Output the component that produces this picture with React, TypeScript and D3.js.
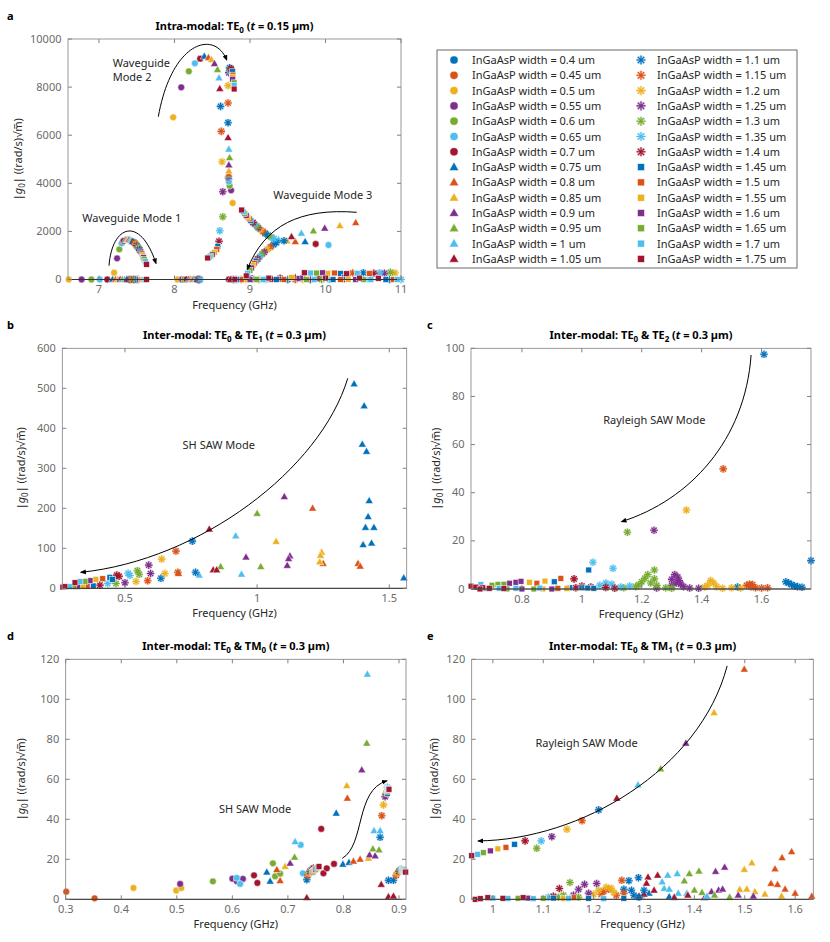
import React from "react";
import * as d3 from "d3";

// [series index, frequency (GHz), |g0|]
type Pt = [number, number, number];
type Seg = { t: string; sub?: boolean; it?: boolean };
type Arrow = [number, number][];

const colors = ["#0072BD", "#D95319", "#EDB120", "#7E2F8E", "#77AC30", "#4DBEEE", "#A2142F"];
const widthLabels = [
  "0.4", "0.45", "0.5", "0.55", "0.6", "0.65", "0.7",
  "0.75", "0.8", "0.85", "0.9", "0.95", "1", "1.05",
  "1.1", "1.15", "1.2", "1.25", "1.3", "1.35", "1.4",
  "1.45", "1.5", "1.55", "1.6", "1.65", "1.7", "1.75",
];

// ---- panel a : intra-modal TE0 ----
const intraFlat: Pt[] = [
  [2, 6.6, 0], [3, 6.77, 0], [4, 6.9, 0], [5, 7.01, 0], [6, 7.11, 0], [7, 7.18, 0], [8, 7.22, 0],
  [9, 7.25, 0], [10, 7.28, 0], [11, 7.31, 0], [12, 7.34, 0], [13, 7.37, 0], [14, 7.4, 0], [15, 7.42, 0],
  [16, 7.44, 0], [17, 7.46, 0], [18, 7.48, 0], [19, 7.5, 0], [20, 7.52, 0], [21, 7.54, 0], [22, 7.56, 0],
  [23, 7.58, 0], [24, 7.59, 0], [25, 7.6, 0], [26, 7.61, 0], [27, 7.63, 0],
  [2, 8.04, 0], [3, 8.1, 0], [4, 8.13, 0], [6, 8.16, 0], [7, 8.19, 0], [8, 8.21, 0], [9, 8.23, 0],
  [10, 8.25, 0], [11, 8.27, 0], [12, 8.29, 0], [13, 8.3, 0], [14, 8.31, 0], [15, 8.32, 0], [17, 8.33, 0],
  [19, 8.34, 0],
  [6, 8.72, 0], [13, 8.74, 0], [7, 8.76, 0], [20, 8.78, 0], [27, 8.8, 10], [14, 8.82, 0], [21, 8.84, 0],
  [8, 8.86, 0], [15, 8.88, 0], [22, 8.9, 0], [9, 8.92, 0], [16, 8.94, 0], [23, 8.96, 0], [10, 8.98, 0],
  [24, 9.0, 0], [17, 9.03, 30], [11, 9.06, 0], [25, 9.09, 0], [18, 9.12, 0], [12, 9.15, 0], [26, 9.18, 0],
  [19, 9.21, 0], [27, 9.25, 60], [13, 9.3, 0], [21, 9.35, 0], [20, 9.4, 50], [22, 9.45, 0], [14, 9.5, 0],
  [23, 9.55, 80], [15, 9.6, 0], [24, 9.65, 40], [16, 9.7, 0], [25, 9.75, 0], [17, 9.8, 0], [26, 9.85, 0],
  [6, 9.9, 50], [18, 9.95, 0], [27, 10.0, 60], [19, 10.05, 0], [21, 10.1, 0], [22, 10.2, 0], [20, 10.25, 40],
  [23, 10.3, 0], [24, 10.4, 0], [25, 10.5, 0], [12, 10.55, 0], [26, 10.6, 0], [27, 10.7, 50], [21, 10.8, 0],
  [14, 10.85, 0], [22, 10.9, 0], [26, 10.95, 0], [19, 11.0, 0],
  [27, 9.72, 280], [26, 9.8, 270], [25, 9.88, 270], [24, 9.96, 280], [23, 10.03, 260], [22, 10.12, 270],
  [21, 10.2, 250], [27, 10.28, 240], [15, 10.36, 270], [26, 10.42, 260], [14, 10.5, 280], [22, 10.58, 250],
  [20, 10.64, 260], [19, 10.72, 280], [17, 10.78, 260], [18, 10.86, 300], [16, 10.92, 270],
  [13, 9.6, 90], [24, 9.7, 70], [12, 10.0, 60], [21, 10.25, 90], [27, 10.45, 60], [7, 10.6, 80],
];

const intraMode1: Pt[] = [
  [2, 7.2, 283], [3, 7.24, 880], [4, 7.27, 1255], [5, 7.3, 1505], [6, 7.325, 1600],
  [7, 7.35, 1640], [8, 7.37, 1650], [9, 7.385, 1660], [10, 7.4, 1650], [11, 7.415, 1630],
  [12, 7.43, 1610], [13, 7.445, 1580], [14, 7.46, 1550], [15, 7.475, 1510], [16, 7.49, 1460],
  [17, 7.5, 1410], [18, 7.515, 1350], [19, 7.53, 1290], [20, 7.54, 1220], [21, 7.555, 1150],
  [22, 7.57, 1070], [23, 7.58, 990], [24, 7.59, 910], [25, 7.6, 830], [26, 7.615, 740], [27, 7.63, 630],
];

const intraMode2: Pt[] = [
  [2, 7.983, 6744], [3, 8.09, 7990], [4, 8.19, 8657], [5, 8.27, 8990], [6, 8.34, 9180],
  [7, 8.395, 9280], [8, 8.45, 9225], [9, 8.49, 9140], [10, 8.53, 8975], [11, 8.57, 8725],
  [12, 8.59, 8380], [13, 8.6, 7935],
  [14, 8.73, 8800], [15, 8.745, 8720], [20, 8.75, 8760], [17, 8.72, 8600], [16, 8.71, 8060],
  [18, 8.735, 8700], [19, 8.74, 8650], [21, 8.77, 8640], [22, 8.775, 8500], [23, 8.77, 8420],
  [24, 8.77, 8330], [25, 8.79, 8180], [26, 8.79, 8080], [27, 8.79, 7920],
  [14, 8.61, 7200], [15, 8.71, 7340], [14, 8.71, 6520], [15, 8.62, 6160], [13, 8.71, 5896],
  [12, 8.72, 5414], [11, 8.73, 5065], [16, 8.63, 4898], [10, 8.72, 4761], [9, 8.72, 4511],
  [8, 8.72, 4374], [7, 8.72, 4290], [6, 8.71, 4240], [0, 8.72, 4180], [5, 8.72, 4066],
  [4, 8.73, 3900], [3, 8.75, 3709], [2, 8.77, 3181], [17, 8.64, 3651], [18, 8.64, 2611],
  [19, 8.6, 2030], [20, 8.59, 1589], [21, 8.575, 1380], [22, 8.56, 1255], [23, 8.53, 1130],
  [24, 8.5, 1048], [25, 8.48, 980], [26, 8.46, 935], [27, 8.44, 894],
  [27, 8.89, 2890], [26, 8.91, 2810], [25, 8.93, 2740], [24, 8.95, 2660], [23, 8.97, 2590],
  [22, 8.99, 2520], [21, 9.01, 2450], [20, 9.04, 2370], [19, 9.06, 2300], [18, 9.09, 2220],
  [17, 9.11, 2150], [16, 9.14, 2070], [15, 9.17, 2000], [14, 9.2, 1920], [14, 9.24, 1840],
  [18, 9.28, 1760], [19, 9.32, 1700], [12, 9.38, 1650], [14, 9.45, 1610], [9, 9.49, 1600],
];

const intraMode3: Pt[] = [
  [27, 8.95, 150], [26, 8.97, 260], [25, 9.0, 380], [24, 9.02, 480], [23, 9.04, 580],
  [22, 9.06, 680], [21, 9.08, 770], [20, 9.1, 850], [19, 9.13, 950], [18, 9.16, 1050],
  [17, 9.19, 1140], [16, 9.23, 1250], [15, 9.27, 1350], [14, 9.31, 1450], [14, 9.35, 1530],
  [13, 9.55, 1780], [8, 9.6, 1572], [12, 9.68, 1920], [7, 9.73, 1572], [11, 9.84, 2017],
  [10, 9.99, 2128], [9, 10.19, 2237], [8, 10.4, 2362], [6, 9.87, 1476], [5, 10.04, 1434],
];

// ---- panel b : TE0 & TE1 ----
const te1Triangles: Pt[] = [
  [7, 1.367, 511], [7, 1.405, 456], [7, 1.398, 360], [7, 1.414, 342], [7, 1.424, 219], [7, 1.42, 179],
  [7, 1.41, 152], [7, 1.442, 152], [7, 1.401, 109], [7, 1.433, 113], [7, 1.555, 26],
  [10, 1.103, 229], [8, 1.21, 200], [11, 1.0, 187], [13, 0.819, 148], [12, 0.919, 131], [9, 1.072, 117],
  [10, 0.958, 78], [12, 0.941, 35], [11, 1.014, 54], [13, 0.834, 46], [13, 0.847, 46], [11, 0.862, 54],
  [10, 1.124, 81], [10, 1.119, 74], [10, 1.114, 57], [9, 1.244, 90], [9, 1.24, 82], [9, 1.237, 66],
  [8, 1.25, 62], [8, 1.382, 62], [8, 1.39, 55], [8, 0.703, 37], [12, 0.781, 33],
];
const te1Stars: Pt[] = [
  [14, 0.755, 118], [15, 0.693, 93], [16, 0.639, 73], [17, 0.59, 58], [18, 0.547, 44], [19, 0.512, 37.5],
  [20, 0.469, 33], [20, 0.478, 30], [19, 0.519, 32], [18, 0.554, 35], [17, 0.597, 37], [16, 0.651, 37],
  [15, 0.7, 40], [14, 0.767, 40],
  [20, 0.405, 8], [19, 0.435, 12], [18, 0.466, 12], [17, 0.5, 14], [16, 0.542, 17], [15, 0.586, 19],
  [14, 0.636, 25],
];
const te1Squares: Pt[] = [
  [27, 0.311, 14], [26, 0.33, 17], [25, 0.349, 17.5], [24, 0.368, 19], [23, 0.39, 22.5], [22, 0.416, 24],
  [21, 0.443, 27.5], [21, 0.453, 22],
  [27, 0.265, 3], [27, 0.273, 4], [26, 0.292, 4], [25, 0.305, 4], [24, 0.32, 4.5], [23, 0.34, 5],
  [22, 0.357, 5], [21, 0.38, 6],
];

// ---- panel c : TE0 & TE2 ----
const te2Stars: Pt[] = [
  [14, 1.608, 97.5], [15, 1.472, 49.9], [16, 1.349, 32.8], [17, 1.241, 24.4], [18, 1.152, 23.6],
  [19, 1.037, 11.1], [19, 1.104, 8.6], [14, 1.765, 11.8], [20, 0.974, 4.2],
  [20, 0.98, 0.5], [20, 1.0, 1.2], [20, 1.03, 0.8], [20, 1.08, 0.6], [20, 1.11, 0.3], [19, 1.06, 1.5],
  [19, 1.08, 2.5], [19, 1.1, 2], [19, 1.13, 0.8], [19, 1.16, 1.2], [18, 1.14, 0.5],
  [18, 1.242, 7.9], [18, 1.242, 4.2], [18, 1.22, 6], [18, 1.21, 4.4], [18, 1.2, 3], [18, 1.19, 1.7],
  [18, 1.18, 1], [18, 1.23, 2.5], [18, 1.25, 1.5], [18, 1.28, 0.5], [18, 1.3, 0.3],
  [17, 1.31, 6], [17, 1.32, 5], [17, 1.3, 4], [17, 1.325, 3.5], [17, 1.315, 2.5], [17, 1.33, 2],
  [17, 1.3, 1.5], [17, 1.34, 1], [17, 1.36, 0.4], [17, 1.39, 0.3], [17, 1.25, 0.4],
  [16, 1.43, 3.5], [16, 1.44, 2.5], [16, 1.42, 1.5], [16, 1.45, 1], [16, 1.41, 0.8], [16, 1.47, 0.3],
  [16, 1.5, 0.5], [16, 1.53, 0.4],
  [15, 1.55, 1.5], [15, 1.56, 2], [15, 1.565, 1], [15, 1.57, 1.8], [15, 1.58, 0.5], [15, 1.6, 0.4],
  [15, 1.62, 0.5],
  [14, 1.681, 3], [14, 1.69, 2.5], [14, 1.7, 1.8], [14, 1.71, 1.2], [14, 1.72, 1], [14, 1.735, 0.7],
  [14, 1.52, 0.8],
];
const te2Squares: Pt[] = [
  [21, 1.023, 7.9], [22, 0.93, 4.4], [22, 0.85, 2.4], [23, 0.877, 3.3], [23, 0.825, 2.8], [24, 0.758, 2.4],
  [24, 0.78, 2.8], [24, 0.797, 3.2], [21, 0.908, 3], [25, 0.7, 1.6], [25, 0.72, 1.9], [25, 0.74, 2.0],
  [26, 0.663, 1.8], [26, 0.724, 0.3], [27, 0.63, 1.2], [27, 0.646, 0.8], [27, 0.669, 0.5], [27, 0.691, 0.3],
  [27, 0.66, 0], [26, 0.68, 0.2], [25, 0.75, 0], [24, 0.8, 0], [23, 0.87, 0], [22, 0.92, 0.3],
  [21, 0.96, 0.5], [26, 0.78, 0.3], [25, 0.84, 0], [24, 0.9, 0], [23, 0.95, 0.2], [21, 1.02, 0.4],
  [21, 1.04, 0.3], [21, 1.0, 0.5], [26, 0.86, 0.4], [27, 0.74, 0.2],
];

// ---- panel d : TE0 & TM0 ----
const tm0Circles: Pt[] = [
  [1, 0.301, 3.8], [1, 0.352, 0.5], [2, 0.422, 5.7], [3, 0.506, 7.7], [2, 0.499, 4.4], [2, 0.508, 5.6],
  [4, 0.565, 9.0], [3, 0.6, 10.3], [3, 0.608, 9], [3, 0.619, 10.2], [5, 0.608, 10.7], [5, 0.614, 7.7],
  [6, 0.639, 12], [6, 0.645, 8.2], [4, 0.673, 18], [4, 0.677, 11.5], [4, 0.686, 12.8], [5, 0.727, 13],
  [5, 0.723, 27.2], [6, 0.764, 13], [6, 0.77, 15.5], [6, 0.783, 17.7], [6, 0.76, 35.2],
];
const tm0Triangles: Pt[] = [
  [7, 0.662, 13.6], [7, 0.668, 9], [8, 0.68, 14.8], [8, 0.686, 9.3], [9, 0.695, 16.4], [10, 0.704, 18],
  [11, 0.712, 21], [12, 0.713, 28.8], [13, 0.734, 0.8], [7, 0.787, 43], [7, 0.799, 17.5], [7, 0.81, 18.4],
  [8, 0.818, 19], [8, 0.83, 20], [8, 0.807, 50.5], [9, 0.806, 56.8], [9, 0.845, 20.5], [10, 0.847, 22.2],
  [10, 0.857, 21.7], [10, 0.833, 64.7], [11, 0.853, 25.2], [11, 0.864, 24.7], [11, 0.842, 78],
  [12, 0.843, 112.5], [12, 0.855, 34.3], [12, 0.866, 34.3], [13, 0.868, 7.4], [13, 0.881, 1.3],
  [13, 0.89, 1.6],
];
const tm0Stars: Pt[] = [
  [14, 0.734, 9.8], [15, 0.736, 12], [16, 0.738, 13], [17, 0.74, 14], [18, 0.742, 14.5], [19, 0.744, 15],
  [20, 0.746, 15.5], [14, 0.866, 31], [15, 0.869, 41.8], [16, 0.872, 47.2], [17, 0.875, 51.3],
  [18, 0.877, 53], [19, 0.879, 56], [20, 0.88, 54.5], [14, 0.881, 9.5], [14, 0.89, 9.5], [15, 0.895, 12],
  [16, 0.897, 13], [17, 0.9, 14], [18, 0.902, 14.5], [19, 0.904, 15],
];
const tm0Squares: Pt[] = [
  [21, 0.744, 13.5], [22, 0.746, 14], [23, 0.748, 14.5], [24, 0.75, 15], [25, 0.752, 15.5], [26, 0.754, 16],
  [27, 0.756, 16.4], [21, 0.879, 53], [22, 0.88, 54], [23, 0.88, 54.5], [24, 0.88, 55], [25, 0.881, 55.5],
  [26, 0.881, 55.5], [27, 0.882, 55], [21, 0.905, 14], [22, 0.906, 14.5], [23, 0.907, 14.5],
  [24, 0.908, 14.8], [25, 0.909, 14.5], [26, 0.91, 14], [27, 0.912, 13.6],
];

// ---- panel e : TE0 & TM1 ----
const tm1Rayleigh: Pt[] = [
  [8, 1.499, 115], [9, 1.439, 93.3], [10, 1.383, 78], [11, 1.333, 65.2], [12, 1.288, 57.2], [13, 1.246, 50.5],
  [14, 1.21, 44.7], [15, 1.177, 39.3], [16, 1.147, 35], [17, 1.117, 31.3], [19, 1.096, 29.2],
  [18, 1.087, 25.5], [20, 1.064, 29.2], [21, 1.043, 27.5], [22, 1.026, 26], [23, 1.01, 25.2],
  [24, 0.995, 24.2], [25, 0.981, 23.3], [26, 0.97, 22.5], [27, 0.958, 21.8],
];
const tm1Triangles: Pt[] = [
  [8, 1.593, 23.8], [8, 1.574, 20.8], [8, 1.56, 15.2], [9, 1.514, 18.2], [9, 1.499, 14.9], [10, 1.46, 16],
  [10, 1.442, 13.9], [11, 1.409, 14.1], [11, 1.39, 12.8], [11, 1.38, 9.2], [12, 1.366, 12.8],
  [12, 1.347, 12], [12, 1.336, 8.7], [13, 1.327, 12], [13, 1.308, 11.1], [13, 1.305, 8],
  [12, 1.34, 5.4], [12, 1.35, 5], [8, 1.552, 7.9], [8, 1.565, 7.4], [8, 1.58, 5.1], [8, 1.6, 3],
  [8, 1.633, 1.5], [9, 1.49, 4.9], [9, 1.504, 5.1], [9, 1.52, 3.8], [9, 1.54, 2.6], [9, 1.573, 1.6],
  [9, 1.47, 0.8], [10, 1.434, 3.8], [10, 1.448, 4.6], [10, 1.456, 5.1], [10, 1.487, 2.1], [10, 1.517, 1.6],
  [10, 1.42, 0.8], [11, 1.4, 4.6], [11, 1.415, 3.4], [11, 1.44, 2.1], [11, 1.47, 1], [12, 1.368, 3],
  [12, 1.385, 3], [12, 1.425, 1.5], [7, 1.35, 1.3], [7, 1.36, 0.8], [13, 1.387, 2.1], [13, 1.32, 4.5],
  [13, 1.3, 2.5], [13, 1.29, 1.5], [7, 1.31, 3], [13, 1.36, 1],
];
const tm1Stars: Pt[] = [
  [18, 1.153, 8.4], [17, 1.182, 7.5], [17, 1.206, 7.9], [20, 1.132, 5.4], [15, 1.256, 9.5], [14, 1.27, 9.3],
  [14, 1.289, 10.8], [15, 1.22, 4], [15, 1.23, 5], [16, 1.225, 6], [16, 1.235, 5.5], [16, 1.24, 3.5],
  [15, 1.215, 2.5], [16, 1.21, 4.5], [15, 1.245, 2], [16, 1.2, 2.5], [17, 1.19, 3], [17, 1.17, 5],
  [17, 1.16, 2], [18, 1.14, 2], [18, 1.13, 1], [20, 1.12, 1.5], [19, 1.11, 1], [18, 1.17, 1],
  [14, 1.26, 5], [14, 1.275, 4.5], [14, 1.28, 2], [15, 1.26, 3], [14, 1.3, 4.5], [14, 1.29, 1],
];
const tm1Squares: Pt[] = [
  [27, 0.965, 0], [27, 0.975, 0.3], [27, 0.99, 0.8], [26, 1.0, 0.6], [27, 1.02, 0.5], [26, 1.03, 0.4],
  [25, 1.05, 0.5], [27, 1.06, 0.8], [24, 1.07, 0.6], [26, 1.08, 0.3], [25, 1.1, 0.5], [21, 1.12, 0.6],
  [23, 1.14, 0.4], [22, 1.16, 0.8], [21, 1.19, 0.5], [26, 1.22, 0.3], [21, 1.26, 0.5], [26, 1.15, 0.5],
];

interface Note { text: string; f: number; g: number; anchor: "start" | "middle" }
interface PanelSpec {
  letter: string; letterX: number;
  title: Seg[];
  box: { l: number; r: number; t: number; b: number };
  xDomain: [number, number]; yDomain: [number, number];
  xTicks: number[]; yTicks: number[];
  yLabelX: number;
  points: Pt[];
  notes: Note[];
  arrows: Arrow[];
}

const te0 = (rest: Seg[]): Seg[] => [{ t: "Inter-modal: TE" }, { t: "0", sub: true }, ...rest];

const panels: PanelSpec[] = [
  {
    letter: "a", letterX: 7,
    title: [{ t: "Intra-modal: TE" }, { t: "0", sub: true }, { t: " (" }, { t: "t", it: true }, { t: " = 0.15 µm)" }],
    box: { l: 68, r: 401, t: 39, b: 279.5 },
    xDomain: [6.59, 11], yDomain: [0, 10000],
    xTicks: [7, 8, 9, 10, 11], yTicks: [0, 2000, 4000, 6000, 8000, 10000],
    yLabelX: 22,
    points: [...intraFlat, ...intraMode1, ...intraMode2, ...intraMode3],
    notes: [
      { text: "Waveguide", f: 7.182, g: 9015, anchor: "start" },
      { text: "Mode 2", f: 7.182, g: 8407, anchor: "start" },
      { text: "Waveguide Mode 1", f: 6.779, g: 2557, anchor: "start" },
      { text: "Waveguide Mode 3", f: 9.309, g: 3513, anchor: "start" },
    ],
    arrows: [
      [[7.786, 6769], [7.967, 9958], [8.537, 10374], [8.692, 9127]],
      [[7.133, 574], [7.173, 2266], [7.544, 2682], [7.755, 674]],
      [[10.413, 2794], [9.662, 2973], [9.199, 2266], [8.964, 424]],
    ],
  },
  {
    letter: "b", letterX: 7,
    title: te0([{ t: " & TE" }, { t: "1", sub: true }, { t: " (" }, { t: "t", it: true }, { t: " = 0.3 µm)" }]),
    box: { l: 62.3, r: 406.7, t: 348.3, b: 588.3 },
    xDomain: [0.263, 1.566], yDomain: [0, 600],
    xTicks: [0.5, 1, 1.5], yTicks: [0, 100, 200, 300, 400, 500, 600],
    yLabelX: 25,
    points: [...te1Triangles, ...te1Stars, ...te1Squares],
    notes: [{ text: "SH SAW Mode", f: 0.855, g: 358, anchor: "middle" }],
    arrows: [[[1.343, 525], [1.238, 296], [0.784, 71], [0.334, 40]]],
  },
  {
    letter: "c", letterX: 427,
    title: te0([{ t: " & TE" }, { t: "2", sub: true }, { t: " (" }, { t: "t", it: true }, { t: " = 0.3 µm)" }]),
    box: { l: 471, r: 811, t: 348.3, b: 589 },
    xDomain: [0.63, 1.765], yDomain: [0, 100],
    xTicks: [0.8, 1, 1.2, 1.4, 1.6], yTicks: [0, 20, 40, 60, 80, 100],
    yLabelX: 440,
    points: [...te2Stars, ...te2Squares],
    notes: [{ text: "Rayleigh SAW Mode", f: 1.242, g: 70.2, anchor: "middle" }],
    arrows: [[[1.565, 97.2], [1.545, 61.9], [1.361, 37], [1.133, 28]]],
  },
  {
    letter: "d", letterX: 7,
    title: te0([{ t: " & TM" }, { t: "0", sub: true }, { t: " (" }, { t: "t", it: true }, { t: " = 0.3 µm)" }]),
    box: { l: 65.7, r: 406, t: 659.3, b: 899.3 },
    xDomain: [0.3, 0.9126], yDomain: [0, 120],
    xTicks: [0.3, 0.4, 0.5, 0.6, 0.7, 0.8, 0.9], yTicks: [0, 20, 40, 60, 80, 100, 120],
    yLabelX: 25,
    points: [...tm0Circles, ...tm0Triangles, ...tm0Stars, ...tm0Squares],
    notes: [{ text: "SH SAW Mode", f: 0.641, g: 45.2, anchor: "middle" }],
    arrows: [[[0.798, 20.5], [0.839, 27.2], [0.821, 54.7], [0.878, 59.2]]],
  },
  {
    letter: "e", letterX: 427,
    title: te0([{ t: " & TM" }, { t: "1", sub: true }, { t: " (" }, { t: "t", it: true }, { t: " = 0.3 µm)" }]),
    box: { l: 471.7, r: 813.3, t: 659.3, b: 899.3 },
    xDomain: [0.958, 1.636], yDomain: [0, 120],
    xTicks: [1, 1.1, 1.2, 1.3, 1.4, 1.5, 1.6], yTicks: [0, 20, 40, 60, 80, 100, 120],
    yLabelX: 438,
    points: [...tm1Rayleigh, ...tm1Triangles, ...tm1Stars, ...tm1Squares],
    notes: [{ text: "Rayleigh SAW Mode", f: 1.186, g: 78.3, anchor: "middle" }],
    arrows: [[[1.465, 116.7], [1.411, 64.7], [1.173, 29.7], [0.971, 29.2]]],
  },
];

const FONT = "'Noto Sans', 'Open Sans', sans-serif";
const AXIS = "#808080";
const fmt = d3.format("~g");

function Marker({ s, x, y, k = 1 }: { s: number; x: number; y: number; k?: number }) {
  const c = colors[s % 7];
  const shape = Math.floor(s / 7);
  if (shape === 0) return <circle cx={x} cy={y} r={3.4 * k} fill={c} stroke="#fff" strokeWidth={0.5} />;
  if (shape === 1) {
    const h = 4 * k;
    return <path d={`M${x},${y - h * 1.05}L${x + h},${y + h * 0.7}L${x - h},${y + h * 0.7}Z`} fill={c} stroke="#fff" strokeWidth={0.5} />;
  }
  if (shape === 3) {
    const h = 2.9 * k;
    return <rect x={x - h} y={y - h} width={2 * h} height={2 * h} fill={c} stroke="#fff" strokeWidth={0.5} />;
  }
  const r = 3.8 * k;
  const d2 = r * 0.707;
  const d = `M${x - r},${y}H${x + r}M${x},${y - r}V${y + r}M${x - d2},${y - d2}L${x + d2},${y + d2}M${x - d2},${y + d2}L${x + d2},${y - d2}`;
  return (
    <g>
      <path d={d} stroke={c} strokeOpacity={0.3} strokeWidth={2.6} fill="none" />
      <path d={d} stroke={c} strokeWidth={1.1} fill="none" />
    </g>
  );
}

function Title({ segs, x, y }: { segs: Seg[]; x: number; y: number }) {
  let shift = 0;
  return (
    <text x={x} y={y} textAnchor="middle" fontWeight="bold" fontSize={11} fill="#000">
      {segs.map((sg, i) => {
        const target = sg.sub ? 2.5 : 0;
        const dy = target - shift;
        shift = target;
        return (
          <tspan key={i} dy={dy} fontSize={sg.sub ? 8 : 11} fontStyle={sg.it ? "italic" : "normal"}>
            {sg.t}
          </tspan>
        );
      })}
    </text>
  );
}

function Panel({ spec }: { spec: PanelSpec }) {
  const { box } = spec;
  const x = d3.scaleLinear().domain(spec.xDomain).range([box.l, box.r]);
  const y = d3.scaleLinear().domain(spec.yDomain).range([box.b, box.t]);
  const pts = [...spec.points].sort((a, b) => a[0] - b[0]);
  const cx = (box.l + box.r) / 2;
  const cy = (box.t + box.b) / 2;
  const tick = 4;

  return (
    <g fontFamily={FONT}>
      <text x={spec.letterX} y={box.t - 19} fontWeight="bold" fontSize={11}>{spec.letter}</text>
      <Title segs={spec.title} x={cx} y={box.t - 9} />

      {/* markers */}
      {pts.map((p, i) => (
        <Marker key={i} s={p[0]} x={x(p[1])} y={y(p[2])} />
      ))}

      {/* box + ticks */}
      <rect x={box.l} y={box.t} width={box.r - box.l} height={box.b - box.t} fill="none" stroke={AXIS} strokeWidth={0.8} />
      <line x1={box.l} x2={box.r} y1={box.b} y2={box.b} stroke="#333" strokeWidth={1} />
      {spec.xTicks.map((v) => (
        <g key={"x" + v}>
          <line x1={x(v)} x2={x(v)} y1={box.b} y2={box.b - tick} stroke={AXIS} />
          <line x1={x(v)} x2={x(v)} y1={box.t} y2={box.t + tick} stroke={AXIS} />
          <text x={x(v)} y={box.b + 13.5} textAnchor="middle" fontSize={11} fill="#6b6b6b">{fmt(v)}</text>
        </g>
      ))}
      {spec.yTicks.map((v) => (
        <g key={"y" + v}>
          <line x1={box.l} x2={box.l + tick} y1={y(v)} y2={y(v)} stroke={AXIS} />
          <line x1={box.r} x2={box.r - tick} y1={y(v)} y2={y(v)} stroke={AXIS} />
          <text x={box.l - 6.5} y={y(v) + 3.5} textAnchor="end" fontSize={11} fill="#6b6b6b">{fmt(v)}</text>
        </g>
      ))}

      <text x={cx} y={box.b + 29} textAnchor="middle" fontSize={11} fill="#262626">Frequency (GHz)</text>
      <text transform={`translate(${spec.yLabelX},${cy}) rotate(-90)`} textAnchor="middle" fontSize={11} fill="#262626">
        <tspan>|</tspan>
        <tspan fontStyle="italic">g</tspan>
        <tspan fontSize={8} dy={2.5}>0</tspan>
        <tspan dy={-2.5}>{"| ((rad/s)\u221Am\u0305)"}</tspan>
      </text>

      {/* annotations */}
      {spec.arrows.map((a, i) => {
        const path = d3.path();
        path.moveTo(x(a[0][0]), y(a[0][1]));
        path.bezierCurveTo(x(a[1][0]), y(a[1][1]), x(a[2][0]), y(a[2][1]), x(a[3][0]), y(a[3][1]));
        return <path key={i} d={path.toString()} fill="none" stroke="#000" strokeWidth={1} markerEnd="url(#arrowHead)" />;
      })}
      {spec.notes.map((n, i) => (
        <text key={i} x={x(n.f)} y={y(n.g) + 4} textAnchor={n.anchor} fontSize={11} fill="#262626">{n.text}</text>
      ))}
    </g>
  );
}

function Legend() {
  const left = 437, top = 50, w = 360, h = 218;
  const rowY = (i: number) => top + 10 + i * 15.3;
  return (
    <g fontFamily={FONT}>
      <rect x={left} y={top} width={w} height={h} fill="#fff" stroke="#6b6b6b" strokeWidth={1} />
      {widthLabels.map((lab, s) => {
        const col = Math.floor(s / 14);
        const row = s % 14;
        const mx = col === 0 ? 454 : 641;
        const tx = col === 0 ? 472 : 657;
        return (
          <g key={s}>
            <Marker s={s} x={mx} y={rowY(row)} k={1.2} />
            <text x={tx} y={rowY(row) + 4} fontSize={11} fill="#262626">{`InGaAsP width = ${lab} um`}</text>
          </g>
        );
      })}
    </g>
  );
}

export default function App() {
  return (
    <svg width={830} height={942} style={{ position: "absolute", left: 0, top: 0, background: "#fff" }}>
      <defs>
        <marker id="arrowHead" viewBox="0 0 10 10" refX="8" refY="5" markerWidth="6" markerHeight="6" orient="auto">
          <path d="M0,1 L10,5 L0,9 Z" fill="#000" />
        </marker>
      </defs>
      {panels.map((p) => (
        <Panel key={p.letter} spec={p} />
      ))}
      <Legend />
    </svg>
  );
}
